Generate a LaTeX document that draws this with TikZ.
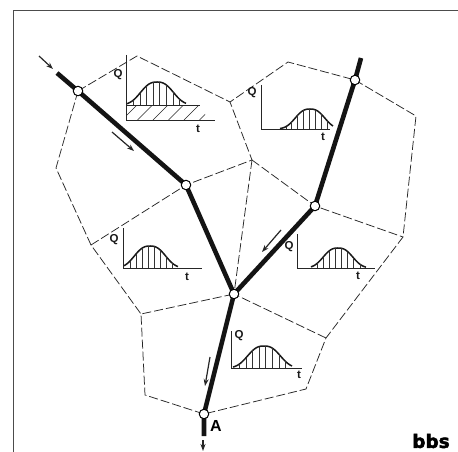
\documentclass[tikz,border=0pt]{standalone}
\usepackage{fontspec}
\setmainfont{Liberation Sans}
\newfontfamily\logofont[BoldFeatures={FakeBold=2.5}]{DejaVu Sans}
\usetikzlibrary{arrows.meta}
\tikzset{
  river/.style={line width=4.6pt,draw=black!92},
  junction/.style={circle,draw=black,fill=white,line width=1pt,minimum size=9.5pt,inner sep=0pt},
  divide/.style={draw=black!85,line width=0.75pt,dash pattern=on 9pt off 3pt},
  flow/.style={draw=black!85,line width=1.2pt,-{Stealth[length=7pt,width=5pt]}},
  axisline/.style={draw=black!85,line width=1pt},
  bell/.style={draw=black!90,line width=1.5pt},
  tick/.style={draw=black!80,line width=0.6pt},
  axlabel/.style={font=\bfseries\fontsize{11.5}{11.5}\selectfont,inner sep=0pt,text=black!90},
  vertex/.style={inner sep=0pt,minimum size=0pt}
}
% #1 axis x, #2 axis top, #3 axis y, #4 axis end, #5 curve start, #6 peak x, #7 curve end, #8 height, #9 spread
\newcommand{\hydro}[9]{%
  \draw[axisline] (#1,#2) -- (#1,#3) -- (#4,#3);
  \draw[bell] plot[domain=#5:#7,samples=40,smooth] (\x,{#3-(#8)*exp(-((abs(\x-(#6))+0.01)/(#9))^2.6)});
  \pgfmathsetmacro{\hstep}{(#7-#5)/9}
  \foreach \i in {1,...,8}{
    \pgfmathsetmacro{\hx}{#5+\i*\hstep}
    \draw[tick] (\hx,#3) -- (\hx,{#3-(#8)*exp(-((abs(\hx-(#6))+0.01)/(#9))^2.6)});
  }
}
\begin{document}
\begin{tikzpicture}[x=1pt,y=-1pt]
\useasboundingbox (0,0) rectangle (458,452);
\fill[white] (0,0) rectangle (458,452);
% frame
\draw[black!70,line width=0.9pt] (13,452) -- (13,10) -- (458,10);

% divide vertices
\node[vertex] (v1) at (137,56) {};
\node[vertex] (v2) at (230,102) {};
\node[vertex] (v3) at (288,62) {};
\node[vertex] (v4) at (416,116) {};
\node[vertex] (v5) at (403,237) {};
\node[vertex] (v6) at (326,338) {};
\node[vertex] (v7) at (306,389) {};
\node[vertex] (v8) at (145,395) {};
\node[vertex] (v9) at (141,314) {};
\node[vertex] (v10) at (91,245) {};
\node[vertex] (v11) at (56,168) {};
\node[vertex] (v12) at (252,160) {};

% junctions positions
\coordinate (n1) at (78,91);
\coordinate (n2) at (186,185);
\coordinate (n3) at (355,80);
\coordinate (n4) at (315,206);
\coordinate (n5) at (234,294);
\coordinate (nA) at (204,414);
\coordinate (s1) at (57,73);
\coordinate (s3) at (361,58);
\coordinate (sA) at (204,436);

% divides
\draw[divide] (n1) -- (v1.center) -- (v2.center) -- (v3.center) -- (n3) -- (v4.center) -- (v5.center) -- (v6.center) -- (v7.center) -- (nA) -- (v8.center) -- (v9.center) -- (n5);
\draw[divide] (n1) -- (v11.center) -- (v10.center) -- (v9.center);
\draw[divide] (v10.center) -- (n2) -- (v12.center) -- (v2.center);
\draw[divide] (v12.center) -- (n4) -- (v5.center);
\draw[divide] (v12.center) -- (n5) -- (v6.center);

% hydrographs
\hydro{126}{55}{105}{200}{127}{157}{186}{23}{20}
\draw[axisline] (126,105) -- (126,120) -- (215,120);
\begin{scope}
  \clip (126.5,105) rectangle (205,119.6);
  \foreach \hx in {122,137.5,...,216}{
    \draw[black!85,line width=0.7pt] (\hx,120) -- (\hx+15,105);
  }
\end{scope}
\node[axlabel] (q1) at (118,75) {Q};
\node[axlabel] (t1) at (198,129) {t};

\hydro{261}{85}{129}{330}{280}{310}{333}{20}{18}
\node[axlabel] (q2) at (252,93) {Q};
\node[axlabel] (t2) at (323,137) {t};

\hydro{123}{228}{268}{202}{124}{150}{178}{22}{19}
\node[axlabel] (q3) at (114,240) {Q};
\node[axlabel] (t3) at (187,277) {t};

\hydro{297}{234}{268}{375}{311}{338}{366}{20}{18}
\node[axlabel] (q4) at (289,247) {Q};
\node[axlabel] (t4) at (358,276) {t};

\hydro{231}{331}{368}{302}{233}{264}{292}{22}{20}
\node[axlabel] (q5) at (239,336) {Q};
\node[axlabel] (t5) at (299,375) {t};

% rivers
\draw[river] (s1) -- (n1) -- (n2) -- (n5) -- (nA) -- (sA);
\draw[river] (s3) -- (n3) -- (n4) -- (n5);

% junction circles
\node[junction] (j1) at (n1) {};
\node[junction] (j2) at (n2) {};
\node[junction] (j3) at (n3) {};
\node[junction] (j4) at (n4) {};
\node[junction] (j5) at (n5) {};
\node[junction] (jA) at (nA) {};

% flow arrows
\coordinate (a1s) at (39,56);  \coordinate (a1e) at (53,69);
\coordinate (a2s) at (112,132); \coordinate (a2e) at (134,151);
\coordinate (a3s) at (281,230); \coordinate (a3e) at (262,252);
\coordinate (a4s) at (210,357); \coordinate (a4e) at (205,386);
\coordinate (a5s) at (203,440); \coordinate (a5e) at (203,451);
\draw[flow] (a1s) -- (a1e);
\draw[flow] (a2s) -- (a2e);
\draw[flow] (a3s) -- (a3e);
\draw[flow] (a4s) -- (a4e);
\draw[flow] (a5s) -- (a5e);

% labels
\node[inner sep=0pt,font=\bfseries\fontsize{16}{16}\selectfont] (lA) at (216,426) {A};
\node[inner sep=0pt,font=\logofont\bfseries\fontsize{18.5}{18.5}\selectfont] (logo) at (431,441) {bbs};
\end{tikzpicture}
\end{document}
